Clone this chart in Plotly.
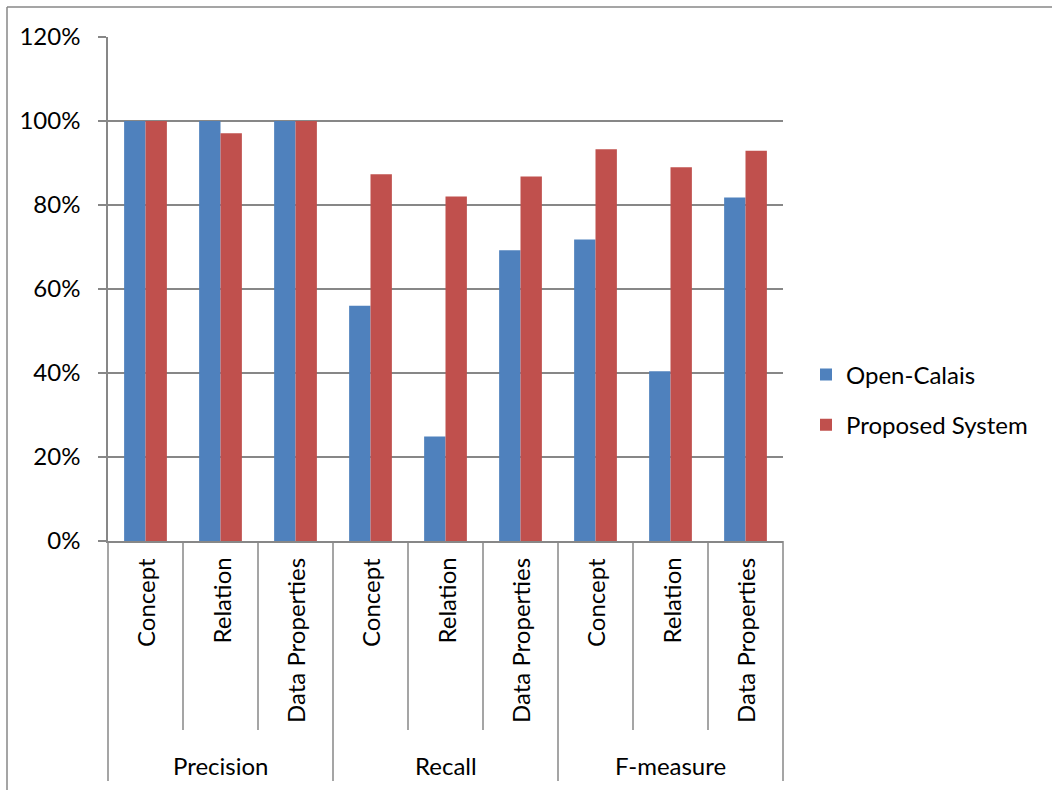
import plotly.graph_objects as go

groups = ["Precision", "Recall", "F-measure"]
subs = ["Concept", "Relation", "Data Properties"]
open_calais = [100, 100, 100, 56.0, 24.9, 69.2, 71.8, 40.4, 81.8]
proposed = [100, 97.1, 100, 87.3, 82.0, 86.8, 93.3, 89.0, 92.9]
y_ticks = [0, 20, 40, 60, 80, 100, 120]

FONT = "Lato"
FS = 24
GRAY = "#878787"
BLUE = "#4F81BD"
RED = "#C0504D"

n_sub = len(subs)
n_cat = len(groups) * n_sub
xpos = list(range(n_cat))
sub_labels = [s for g in groups for s in subs]

fig = go.Figure()
fig.add_trace(go.Bar(x=xpos, y=[v / 100 for v in open_calais], name="Open-Calais",
                     marker=dict(color=BLUE, line=dict(width=0)), legendgroup="a"))
fig.add_trace(go.Bar(x=xpos, y=[v / 100 for v in proposed], name="Proposed System",
                     marker=dict(color=RED, line=dict(width=0)), legendgroup="b"))

W, H = 1052, 790
L, R, T, B = 108, 269, 37, 249
pw, ph = W - L - R, H - T - B

def px_to_paper_y(py):
    return (H - B - py) / ph

def px_to_paper_x(px):
    return (px - L) / pw

shapes = []
for k in range(n_cat + 1):
    is_group = (k % n_sub == 0)
    y1 = px_to_paper_y(781 if is_group else 730)
    shapes.append(dict(type="line", xref="x domain", yref="y domain",
                       x0=k / n_cat, x1=k / n_cat, y0=0, y1=y1,
                       line=dict(color=GRAY, width=1.5)))
bx = px_to_paper_x(7)
by = px_to_paper_y(7)
shapes.append(dict(type="line", xref="paper", yref="paper", x0=bx, x1=bx,
                   y0=by, y1=px_to_paper_y(H + 5), line=dict(color=GRAY, width=1.5)))
shapes.append(dict(type="line", xref="paper", yref="paper", x0=bx, x1=px_to_paper_x(W + 5),
                   y0=by, y1=by, line=dict(color=GRAY, width=1.5)))

annotations = []
for i, lab in enumerate(sub_labels):
    annotations.append(dict(x=xpos[i], xref="x", y=px_to_paper_y(556), yref="paper",
                            text=lab, textangle=-90, showarrow=False,
                            xanchor="center", yanchor="top",
                            font=dict(family=FONT, size=FS, color="black")))
for gi, g in enumerate(groups):
    cx = (gi * n_sub + (gi + 1) * n_sub - 1) / 2
    annotations.append(dict(x=cx, xref="x", y=px_to_paper_y(765), yref="paper",
                            text=g, showarrow=False, xanchor="center", yanchor="middle",
                            font=dict(family=FONT, size=FS, color="black")))

fig.update_layout(
    width=W, height=H,
    margin=dict(l=L, r=R, t=T, b=B, pad=0),
    paper_bgcolor="white", plot_bgcolor="white",
    barmode="group", bargap=0.43, bargroupgap=0,
    font=dict(family=FONT, size=FS, color="black"),
    shapes=shapes, annotations=annotations,
    legend=dict(x=px_to_paper_x(806), xanchor="left", y=px_to_paper_y(400), yanchor="middle",
                traceorder="grouped", tracegroupgap=16,
                font=dict(family=FONT, size=FS, color="black"),
                bgcolor="rgba(0,0,0,0)"),
    showlegend=True,
)
fig.update_xaxes(range=[-0.5, n_cat - 0.5], showticklabels=False, ticks="",
                 showgrid=False, zeroline=False, showline=True, linecolor=GRAY, linewidth=1.5,
                 fixedrange=True)
fig.update_yaxes(range=[0, 1.2], tickvals=[v / 100 for v in y_ticks],
                 ticktext=[f"{v}%" for v in y_ticks],
                 showgrid=True, gridcolor=GRAY, gridwidth=1.5,
                 zeroline=False, showline=True, linecolor=GRAY, linewidth=1.5,
                 ticks="outside", ticklen=8, tickcolor=GRAY, tickwidth=1.5,
                 ticklabelstandoff=13,
                 tickfont=dict(family=FONT, size=FS, color="black"), fixedrange=True)

fig.write_html("out.html")
